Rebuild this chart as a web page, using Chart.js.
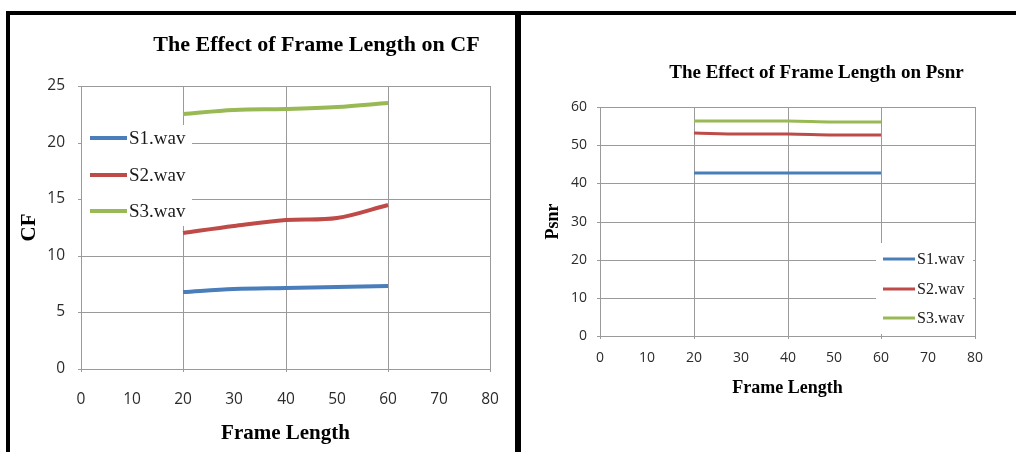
<!DOCTYPE html>
<html>
<head>
<meta charset="utf-8">
<script src="https://cdn.jsdelivr.net/npm/chart.js@4.4.1/dist/chart.umd.min.js"></script>
<style>
  body { margin: 0; background: #fff; width: 1016px; height: 452px; overflow: hidden; position: relative; }
  .box { position: absolute; }
  .rule { position: absolute; background: #000; }
</style>
</head>
<body>
<div class="box" style="left:11px; top:16px;"><canvas id="cfChart" width="509" height="436"></canvas></div>
<div class="box" style="left:522px; top:16px;"><canvas id="psnrChart" width="494" height="436"></canvas></div>
<div class="rule" style="left:6px; top:11px; width:1010px; height:4px;"></div>
<div class="rule" style="left:6px; top:11px; width:4px; height:441px;"></div>
<div class="rule" style="left:515px; top:11px; width:6px; height:441px;"></div>
<script>
const frameLengths = [20, 30, 40, 50, 60];
const seriesNames = ["S1.wav", "S2.wav", "S3.wav"];

const cfS1 = [6.8, 7.04, 7.15, 7.25, 7.35];
const cfS2 = [12.0, 12.6, 13.15, 13.3, 14.5];
const cfS3 = [22.5, 22.85, 23.0, 23.15, 23.5];

const psnrS1 = [42.8, 42.7, 42.7, 42.6, 42.6];
const psnrS2 = [53.2, 53.0, 52.8, 52.7, 52.6];
const psnrS3 = [56.4, 56.4, 56.35, 56.2, 56.0];

const xTicks = [0, 10, 20, 30, 40, 50, 60, 70, 80];

const COLORS = ["#4a7ebb", "#be4b48", "#98b954"];
const GRID = "#9a9a9a";
const SERIF = "'Liberation Serif', 'DejaVu Serif', serif";

Chart.defaults.font.family = "'Open Sans', sans-serif";
Chart.defaults.color = "#2b2b2b";

function points(values) {
  return frameLengths.map((x, i) => ({ x, y: values[i] }));
}

function makeDatasets(seriesList, width) {
  return seriesList.map((vals, i) => ({
    label: seriesNames[i],
    data: points(vals),
    borderColor: COLORS[i],
    borderWidth: width,
    pointRadius: 0,
    tension: 0.35,
    fill: false,
  }));
}

// shift the chart title sideways after layout (the original is off-centre)
const titleShift = {
  id: "titleShift",
  afterLayout(chart, args, opts) {
    const t = chart.titleBlock;
    if (!t || !opts.dx) return;
    t.left += opts.dx;
    t.right += opts.dx;
  },
};

// legend drawn inside the plot area on a white patch, like Excel does
const insideLegend = {
  id: "insideLegend",
  afterDraw(chart, args, opts) {
    const { ctx, chartArea: ca } = chart;
    ctx.save();
    ctx.fillStyle = "#fff";
    ctx.fillRect(ca.left + opts.box[0], ca.top + opts.box[1], opts.box[2], opts.box[3]);
    ctx.font = opts.font;
    ctx.textBaseline = "middle";
    ctx.textAlign = "left";
    chart.data.datasets.forEach((ds, i) => {
      const y = Math.round(ca.top + opts.firstY + i * opts.gap);
      ctx.strokeStyle = ds.borderColor;
      ctx.lineWidth = ds.borderWidth;
      ctx.beginPath();
      ctx.moveTo(ca.left + opts.lineX[0], y);
      ctx.lineTo(ca.left + opts.lineX[1], y);
      ctx.stroke();
      ctx.fillStyle = "#1a1a1a";
      ctx.fillText(ds.label, ca.left + opts.textX, y + 1);
    });
    ctx.restore();
  },
};

function buildOptions(cfg) {
  return {
    responsive: false,
    animation: false,
    layout: { padding: { left: 0, right: cfg.padRight, top: 0, bottom: 0 } },
    plugins: {
      legend: { display: false },
      tooltip: { enabled: false },
      title: {
        display: true,
        text: cfg.title,
        color: "#000",
        font: { family: SERIF, size: cfg.titleSize, weight: "bold" },
        padding: cfg.titlePad,
      },
      titleShift: { dx: cfg.titleDx },
      insideLegend: cfg.legend,
    },
    scales: {
      x: {
        type: "linear",
        min: 0,
        max: 80,
        alignToPixels: true,
        afterBuildTicks: (scale) => {
          scale.ticks = xTicks.map((v) => ({ value: v }));
        },
        afterFit: (scale) => { scale.height = cfg.xHeight; },
        ticks: { autoSkip: false, maxRotation: 0, padding: cfg.xTickPad, font: { size: cfg.tickSize } },
        grid: {
          color: (c) => (c.tick && c.tick.value % 20 === 0 ? GRID : "rgba(0,0,0,0)"),
          tickLength: 3,
        },
        border: { color: GRID },
        title: {
          display: true,
          text: "Frame Length",
          color: "#000",
          font: { family: SERIF, size: cfg.xTitleSize, weight: "bold" },
          padding: { top: 0, bottom: cfg.xTitlePad },
        },
      },
      y: {
        min: 0,
        max: cfg.yMax,
        alignToPixels: true,
        afterFit: (scale) => { scale.width = cfg.yWidth; },
        ticks: { stepSize: cfg.yStep, padding: cfg.yTickPad, font: { size: cfg.tickSize } },
        grid: { color: GRID, tickLength: 3 },
        border: { color: GRID },
        title: {
          display: true,
          text: cfg.yTitle,
          color: "#000",
          font: { family: SERIF, size: cfg.yTitleSize, weight: "bold" },
          padding: { top: cfg.yTitlePad, bottom: 0 },
        },
      },
    },
  };
}

new Chart(document.getElementById("cfChart"), {
  type: "line",
  data: { datasets: makeDatasets([cfS1, cfS2, cfS3], 4) },
  options: buildOptions({
    title: "The Effect of Frame Length on CF",
    titleSize: 22,
    titlePad: { top: 16, bottom: 27.6 },
    titleDx: 66,
    padRight: 30,
    yMax: 25,
    yStep: 5,
    yWidth: 70,
    yTickPad: 13,
    yTitle: "CF",
    yTitleSize: 21,
    yTitlePad: 6.4,
    xHeight: 83,
    xTickPad: 18,
    xTitleSize: 21,
    xTitlePad: 5.5,
    tickSize: 15.5,
    legend: {
      box: [1, 39, 110, 101],
      firstY: 52,
      gap: 36.5,
      lineX: [9, 46],
      textX: 48,
      font: "19px " + SERIF,
    },
  }),
  plugins: [titleShift, insideLegend],
});

new Chart(document.getElementById("psnrChart"), {
  type: "line",
  data: { datasets: makeDatasets([psnrS1, psnrS2, psnrS3], 3) },
  options: buildOptions({
    title: "The Effect of Frame Length on Psnr",
    titleSize: 19,
    titlePad: { top: 45.6, bottom: 22.6 },
    titleDx: 68,
    padRight: 41,
    yMax: 60,
    yStep: 10,
    yWidth: 78,
    yTickPad: 10,
    yTitle: "Psnr",
    yTitleSize: 18,
    yTitlePad: 21,
    xHeight: 116,
    xTickPad: 11,
    xTitleSize: 18,
    xTitlePad: 53,
    tickSize: 14,
    legend: {
      box: [276, 136, 97, 91],
      firstY: 152,
      gap: 29.5,
      lineX: [283, 315],
      textX: 317,
      font: "16px " + SERIF,
    },
  }),
  plugins: [titleShift, insideLegend],
});
</script>
</body>
</html>
